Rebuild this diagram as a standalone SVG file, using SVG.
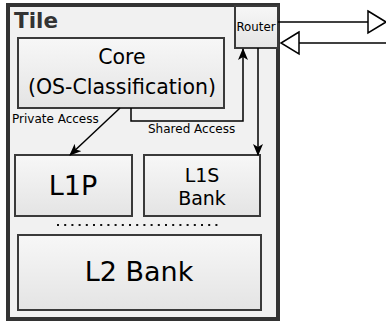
<svg xmlns="http://www.w3.org/2000/svg" width="386" height="322" viewBox="0 0 386 322">
<style>
.box{fill:url(#g);stroke:#3a3a3a;stroke-width:2}
.t{font-family:"DejaVu Sans",sans-serif;fill:#000;text-anchor:middle}
.lbl{font-family:"DejaVu Sans",sans-serif;fill:#000;font-size:12px}
.c{fill:none;stroke:#000;stroke-width:1.5}
</style>
<defs>
<linearGradient id="g" x1="0" y1="0" x2="0" y2="1">
<stop offset="0" stop-color="#f7f7f7"/>
<stop offset="1" stop-color="#e4e4e4"/>
</linearGradient>
<marker id="a" viewBox="0 0 12 10" refX="11" refY="5" markerWidth="12" markerHeight="10" markerUnits="userSpaceOnUse" orient="auto">
<path d="M0,0 L12,5 L0,10 L3,5 z" fill="#000"/>
</marker>
</defs>
<g id="tile">
<rect x="8" y="5" width="270" height="314" fill="#f1f1f1" stroke="#333" stroke-width="4"/>
<text x="14" y="28" font-family="DejaVu Sans, sans-serif" font-weight="bold" font-size="21.5" fill="#333">Tile</text>
</g>
<g id="router">
<rect class="box" x="235" y="6" width="43" height="42" stroke-width="1.5"/>
<text class="t" x="256" y="31" font-size="11.8">Router</text>
</g>
<g id="core">
<rect class="box" x="18" y="38" width="206" height="70"/>
<text class="t" x="122" y="64" font-size="20.5">Core</text>
<text class="t" x="122" y="94" font-size="20.5">(OS-Classification)</text>
</g>
<g id="l1p">
<rect class="box" x="15" y="155" width="117" height="61"/>
<text class="t" x="73" y="195" font-size="27">L1P</text>
</g>
<g id="l1s">
<rect class="box" x="144" y="155" width="116" height="61"/>
<text class="t" x="202" y="182" font-size="19">L1S</text>
<text class="t" x="202" y="205" font-size="19">Bank</text>
</g>
<g id="l2">
<rect class="box" x="18" y="235" width="243" height="75"/>
<text class="t" x="139" y="281" font-size="27">L2 Bank</text>
</g>
<g id="connectors">
<line x1="57" y1="225" x2="218" y2="225" stroke="#111" stroke-width="2" stroke-dasharray="2 5.2"/>
<line class="c" x1="120" y1="108" x2="70" y2="155" marker-end="url(#a)"/>
<polyline class="c" points="131,108 131,121 243,121 243,49" marker-end="url(#a)"/>
<line class="c" x1="258" y1="48" x2="258" y2="155" marker-end="url(#a)"/>
<line class="c" x1="278" y1="22" x2="368" y2="22"/>
<path d="M368,11 L386,22 L368,33 z" fill="#fff" stroke="#000" stroke-width="1.5"/>
<line class="c" x1="386" y1="43" x2="299" y2="43"/>
<path d="M299,32 L281,43 L299,54 z" fill="#fff" stroke="#000" stroke-width="1.5"/>
<text class="lbl" x="12" y="123">Private Access</text>
<text class="lbl" x="148" y="133" font-size="11.7">Shared Access</text>
</g>
</svg>
